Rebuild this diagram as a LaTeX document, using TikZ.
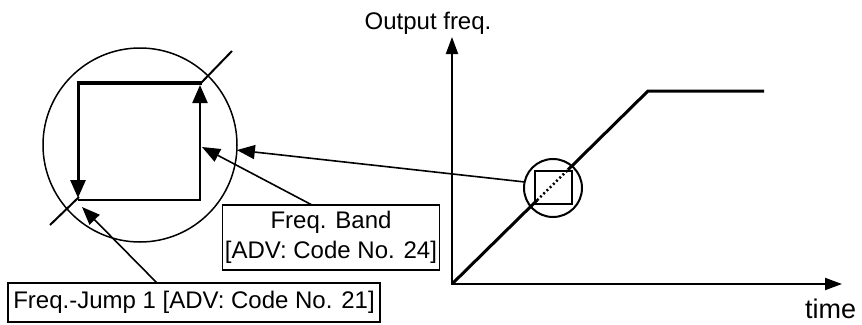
\documentclass[tikz,border=0pt]{standalone}
\usepackage{fontspec}
\setmainfont{Liberation Sans}
\usetikzlibrary{arrows.meta,calc}
\begin{document}
\begin{tikzpicture}[x=1pt,y=-1pt,
  lbl/.style={font=\fontsize{24}{30}\selectfont},
  boxnode/.style={draw,line width=1.5pt,inner sep=0pt,outer sep=0pt,lbl,align=center},
  leader/.style={line width=1.6pt,-{Triangle[length=18pt,width=14pt]}},
  axis/.style={line width=2pt,-{Triangle[length=17pt,width=12pt]}},
  bigtip/.style={-{Triangle[length=18pt,width=15pt]}},
  ring/.style={draw,circle,inner sep=0pt,outer sep=0pt},
]
\useasboundingbox (0,0) rectangle (862,324);

% axes
\coordinate (o) at (452,284);
\coordinate (ytop) at (452,37);
\coordinate (xend) at (842,284);
\draw[axis] ($(o)+(0,1)$) -- (ytop);
\draw[axis] ($(o)+(-1,0)$) -- (xend);
\node[lbl,anchor=base] (ylab) at (428,29) {Output freq.};
\node[font=\fontsize{27}{30}\selectfont,anchor=base west,inner sep=0pt] (xlab) at (805,318.5) {time};

% ramp
\draw[line width=3pt] (o) -- (537,200.3);
\draw[line width=2.5pt,dash pattern=on 2pt off 2.5pt] (537,200.3) -- (568,169.8);
\draw[line width=3pt,line join=miter] (568,169.8) -- (648,91) -- (764,91);

% small magnifier
\draw[line width=2pt] (535,171) rectangle (572,204);
\node[ring,line width=2pt,minimum size=58pt] (small) at (553,188) {};

% big magnified circle
\node[ring,line width=1.5pt,minimum size=194pt] (big) at (140,145) {};
\draw[line width=4.5pt] (76.5,83) -- (202,83);
\draw[line width=3pt,bigtip] (78,83) -- (78,198);
\draw[line width=2.3pt,line join=miter,bigtip] (78,200) -- (200,200) -- (200,85);
\draw[line width=2pt] (50,225) -- (79,197);
\draw[line width=2pt] (201,83) -- (232,51);

% boxes
\node[boxnode,minimum width=217pt,minimum height=65pt] (band) at (331,237.5)
  {Freq. Band\\{[ADV: Code No. 24]}};
\node[boxnode,minimum width=372pt,minimum height=39pt] (jump) at (194,302.5)
  {Freq.-Jump 1 [ADV: Code No. 21]};

% leaders
\coordinate (bandtip) at (202,147);
\coordinate (jumptip) at (82,207);
\draw[leader] (small.168) -- (big.-3);
\draw[leader] ($(band.north)+(-19,0)$) -- (bandtip);
\draw[leader] ($(jump.north)+(-37,0)$) -- (jumptip);
\end{tikzpicture}
\end{document}
